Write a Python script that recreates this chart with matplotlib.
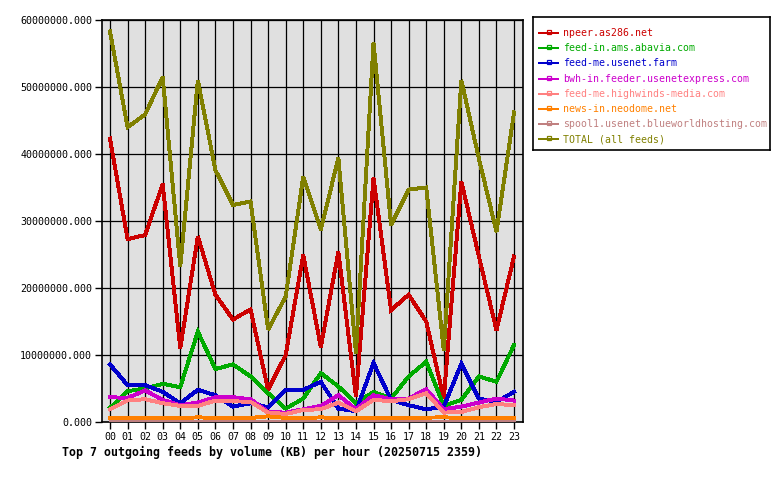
import matplotlib
matplotlib.use("Agg")
import matplotlib.pyplot as plt
from matplotlib.ticker import FuncFormatter, MultipleLocator

hours = ["%02d" % h for h in range(24)]

npeer = [42.3, 27.3, 27.9, 35.5, 11.0, 27.7, 19.0, 15.3, 16.8, 4.8, 10.0, 24.9,
         11.2, 25.4, 3.8, 36.4, 16.7, 19.0, 15.0, 3.5, 35.9, 24.7, 13.7, 24.7]
abavia = [2.1, 4.6, 5.0, 5.7, 5.2, 13.5, 7.9, 8.6, 6.8, 4.3, 2.0, 3.5,
          7.3, 5.3, 2.8, 4.5, 3.5, 6.8, 9.0, 2.4, 3.3, 6.8, 6.0, 11.5]
farm = [8.6, 5.5, 5.5, 4.5, 2.8, 4.8, 4.0, 2.3, 2.8, 2.2, 4.8, 4.8,
        6.0, 2.0, 1.6, 8.8, 3.3, 2.5, 1.9, 2.3, 8.7, 3.5, 3.0, 4.5]
bwh = [3.7, 3.6, 4.7, 3.3, 2.5, 2.9, 3.7, 3.7, 3.4, 1.5, 1.4, 1.9,
       2.4, 4.0, 1.9, 4.0, 3.4, 3.5, 4.9, 1.9, 2.3, 2.9, 3.5, 3.2]
highwinds = [1.9, 3.2, 3.4, 2.8, 2.4, 2.4, 3.2, 3.1, 3.0, 1.4, 1.2, 1.8,
             1.9, 2.9, 1.6, 3.3, 3.1, 3.4, 4.3, 1.4, 1.5, 2.2, 2.7, 2.5]
neodome = [0.55, 0.55, 0.55, 0.55, 0.55, 0.7, 0.6, 0.55, 0.6, 0.85, 0.6, 0.55,
           0.7, 0.55, 0.55, 0.6, 0.55, 0.55, 0.65, 0.7, 0.6, 0.55, 0.55, 0.65]
spool1 = [0.15] * 24
total = [58.3, 44.0, 45.9, 51.5, 23.2, 51.0, 37.6, 32.4, 32.9, 13.8, 18.7, 36.6,
         28.7, 39.4, 10.3, 56.6, 29.4, 34.7, 35.0, 10.7, 51.0, 39.3, 28.4, 46.2]

names = ["npeer.as286.net", "feed-in.ams.abavia.com", "feed-me.usenet.farm",
         "bwh-in.feeder.usenetexpress.com", "feed-me.highwinds-media.com",
         "news-in.neodome.net", "spool1.usenet.blueworldhosting.com", "TOTAL (all feeds)"]
series = [npeer, abavia, farm, bwh, highwinds, neodome, spool1, total]
colors = ["#CC0000", "#00AA00", "#0000CC", "#CC00CC", "#FF8080", "#FF8000", "#C08080", "#808000"]

W, H = 780, 480
fig = plt.figure(figsize=(7.8, 4.8), dpi=100)
fig.patch.set_facecolor("white")
mono = "DejaVu Sans Mono"

left, right, top, bottom = 102, 523, 20, 422
ax = fig.add_axes([left / W, (H - bottom) / H, (right - left) / W, (bottom - top) / H])
ax.set_facecolor("#E0E0E0")

x = list(range(24))
for vals, c in zip(series, colors):
    ax.plot(x, [v * 1e6 for v in vals], color=c, lw=2.1, solid_joinstyle="miter",
            antialiased=False, zorder=3)

ax.set_xlim(-0.455, 23.51)
ax.set_ylim(0, 60e6)
ax.yaxis.set_major_locator(MultipleLocator(10e6))
ax.yaxis.set_major_formatter(FuncFormatter(lambda v, p: "%.3f" % v))
ax.set_xticks(x)
ax.set_xticklabels(hours)
ax.grid(True, color="black", lw=0.9, zorder=1)
ax.set_axisbelow(True)
for s in ax.spines.values():
    s.set_color("black")
    s.set_linewidth(1.2)
ax.tick_params(axis="both", direction="out", length=5, width=1, colors="black",
               labelsize=7.2, pad=2)
for lab in ax.get_xticklabels() + ax.get_yticklabels():
    lab.set_fontfamily(mono)

fig.text(62 / W, 1 - 452 / H, "Top 7 outgoing feeds by volume (KB) per hour (20250715 2359)",
         fontfamily=mono, fontweight="bold", fontsize=8.4, va="center", ha="left")

# legend box
lx0, ly0, lx1, ly1 = 533, 17, 770, 150
lax = fig.add_axes([lx0 / W, (H - ly1) / H, (lx1 - lx0) / W, (ly1 - ly0) / H])
lax.set_xlim(0, lx1 - lx0)
lax.set_ylim(ly1 - ly0, 0)
lax.set_xticks([])
lax.set_yticks([])
for s in lax.spines.values():
    s.set_color("black")
    s.set_linewidth(1.2)
lax.set_facecolor("white")
for i, (n, c) in enumerate(zip(names, colors)):
    yy = 16 + i * 15.2
    lax.plot([6, 25], [yy, yy], color=c, lw=1.2, antialiased=False)
    lax.plot([15.5], [yy - 1], marker="s", ms=3, mfc="none", mec=c, mew=0.9)
    lax.text(30, yy, n, color=c, fontfamily=mono, fontsize=7.1, va="center", ha="left")

fig.savefig("out.png", dpi=100)
